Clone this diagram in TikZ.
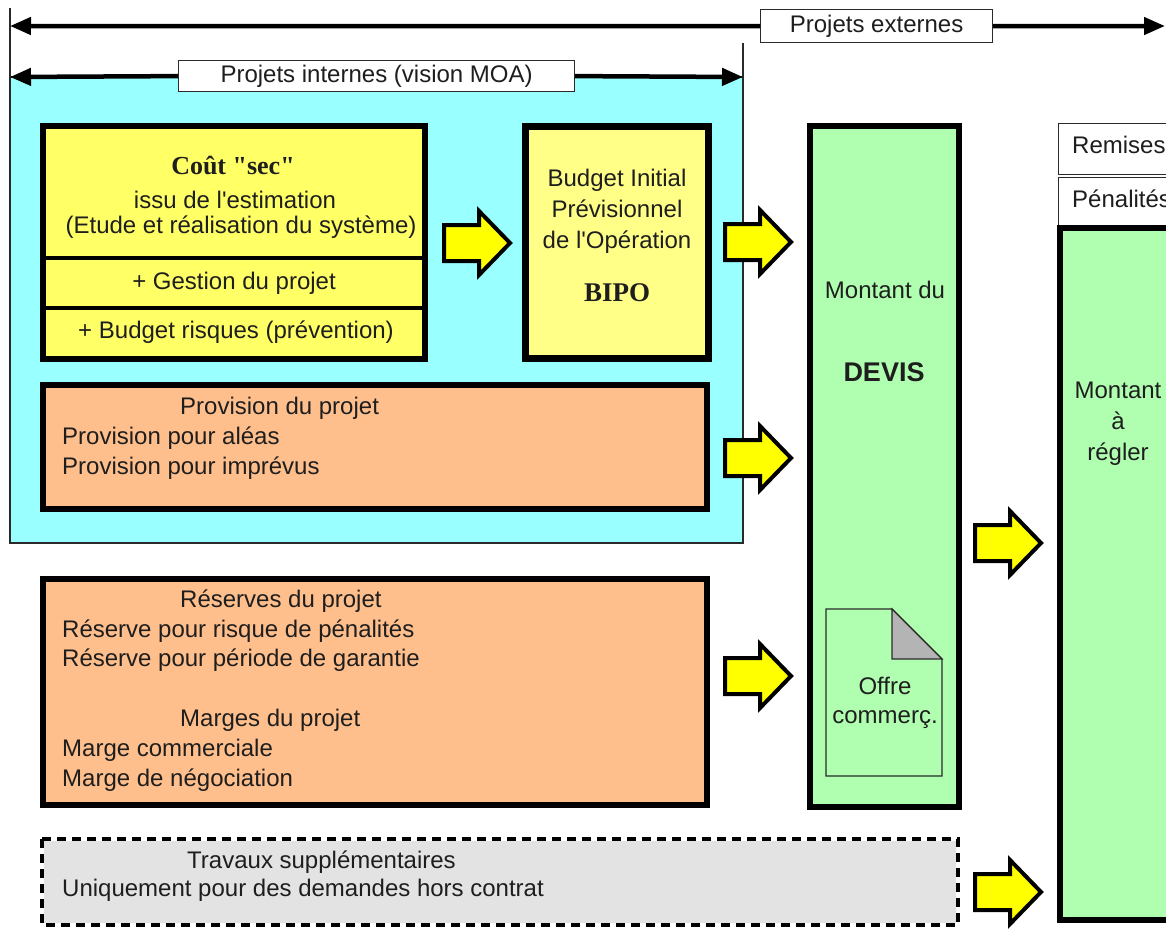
\documentclass[tikz,border=0pt]{standalone}
\usepackage{fontspec}
\newfontfamily\arialf{Liberation Sans}
\newfontfamily\timesf{Liberation Serif}
\usetikzlibrary{arrows.meta}

\definecolor{moacyan}{HTML}{99FFFF}
\definecolor{costyellow}{HTML}{FFFF66}
\definecolor{bipoyellow}{HTML}{FFFF88}
\definecolor{provorange}{HTML}{FFBF8C}
\definecolor{devisgreen}{HTML}{B0FFB0}
\definecolor{extragray}{HTML}{E3E3E3}
\definecolor{foldgray}{HTML}{B4B4B4}
\definecolor{arrowyellow}{HTML}{FFFF00}
\definecolor{ink}{HTML}{1E1E1E}
\definecolor{thinline}{HTML}{2A2A2A}

\tikzset{
  txt/.style={inner sep=0pt, text=ink, font=\arialf\fontsize{24}{30}\selectfont},
  serifbold/.style={inner sep=0pt, text=ink, font=\timesf\bfseries\fontsize{26}{30}\selectfont},
  panel/.style={draw=black, line width=6pt, inner sep=0pt, anchor=north west},
  tagbox/.style={draw=thinline, line width=1.2pt, fill=white, inner sep=0pt, anchor=north west},
  spanarrow/.style={line width=4.5pt, -{Triangle[length=21pt,width=17pt]}},
  pics/fatarrow/.style={code={
    \draw[line width=4pt, line join=miter, fill=arrowyellow]
      (0,-18) -- (35,-18) -- (35,-32) -- (66,0) -- (35,32) -- (35,18) -- (0,18) -- cycle;}}
}

\begin{document}
\begin{tikzpicture}[x=1pt,y=-1pt]
\useasboundingbox (0,0) rectangle (1166,929);
\clip (0,0) rectangle (1166,929);
\fill[white] (0,0) rectangle (1166,929);

% ---- internal projects zone (MOA view)
\node[draw=thinline, line width=1.2pt, fill=moacyan, inner sep=0pt, outer sep=0pt,
      anchor=north west, minimum width=733, minimum height=466] (moa) at (10,77) {};

% ---- extent markers
\coordinate (tickL) at (10,8);
\coordinate (tickR) at (743,43);
\coordinate (extL) at (10,26);
\coordinate (extR) at (1165,26);
\draw[thinline, line width=1.2pt] (tickL) -- (moa.north west);
\draw[thinline, line width=1.2pt] (tickR) -- (moa.north east);

\node[tagbox, txt, minimum width=232, minimum height=33] (ext) at (760,9) {Projets externes};
\draw[spanarrow] (ext.west) -- (extL);
\draw[spanarrow] (ext.east) -- (extR);

\node[tagbox, txt, minimum width=396, minimum height=31] (int) at (178,60) {Projets internes (vision MOA)};
\draw[spanarrow] (int.west) -- (moa.north west);
\draw[spanarrow] (int.east) -- (moa.north east);

% ---- dry cost block
\node[panel, fill=costyellow, minimum width=382, minimum height=233] (cost) at (40,123) {};
\coordinate (div1) at (0,258);
\coordinate (div2) at (0,308);
\draw[line width=4pt] (cost.west |- div1) -- (cost.east |- div1);
\draw[line width=4pt] (cost.west |- div2) -- (cost.east |- div2);
\node[serifbold] (coutsec) at (233,165) {Coût "sec"};
\node[txt] (issu) at (235,200) {issu de l'estimation};
\node[txt] (etude) at (241,227) {(Etude et réalisation du système)};
\node[txt] (gestion) at (234,283) {+ Gestion du projet};
\node[txt] (risques) at (236,332) {+ Budget risques (prévention)};

% ---- BIPO
\node[panel, line width=7pt, fill=bipoyellow, minimum width=183, minimum height=232] (bipo) at (522,123) {};
\node[txt, align=center, font=\arialf\fontsize{24}{31}\selectfont] (bipotxt) at (617,211)
  {Budget Initial\\Prévisionnel\\de l'Opération};
\node[inner sep=0pt, text=ink, font=\timesf\bfseries\fontsize{27}{30}\selectfont] (bipoabbr) at (617,293) {BIPO};

% ---- project provision
\node[panel, fill=provorange, minimum width=664, minimum height=124] (prov) at (40,382) {};
\node[txt, anchor=west] (provtitle) at (180,408) {Provision du projet};
\node[txt, anchor=west] (provalea) at (62,438) {Provision pour aléas};
\node[txt, anchor=west] (provimpr) at (62,468) {Provision pour imprévus};

% ---- reserves and margins
\node[panel, fill=provorange, minimum width=664, minimum height=226] (res) at (40,576) {};
\node[txt, anchor=west] (restitle) at (180,601) {Réserves du projet};
\node[txt, anchor=west] (respen) at (62,631) {Réserve pour risque de pénalités};
\node[txt, anchor=west] (resgar) at (62,660) {Réserve pour période de garantie};
\node[txt, anchor=west] (margtitle) at (180,720) {Marges du projet};
\node[txt, anchor=west] (margcom) at (62,750) {Marge commerciale};
\node[txt, anchor=west] (margneg) at (62,780) {Marge de négociation};

% ---- extra work (dashed)
\node[draw=white, line width=4pt, fill=extragray, inner sep=0pt, outer sep=0pt,
      anchor=north west, minimum width=916, minimum height=86] (extra) at (42,839) {};
\draw[line width=4pt, dash pattern=on 9pt off 6pt] (extra.north west) rectangle (extra.south east);
\node[txt, anchor=west] (extratitle) at (187,862) {Travaux supplémentaires};
\node[txt, anchor=west] (extraonly) at (62,890) {Uniquement pour des demandes hors contrat};

% ---- quotation
\node[panel, fill=devisgreen, minimum width=149, minimum height=681] (devis) at (807,123) {};
\node[txt] (montdu) at (885,290) {Montant du};
\node[inner sep=0pt, text=ink, font=\arialf\bfseries\fontsize{27}{30}\selectfont] (devisword) at (884,372) {DEVIS};

% commercial offer document
\node[inner sep=0pt, outer sep=0pt, anchor=north west, minimum width=116, minimum height=167] (offre) at (826,609) {};
\draw[thinline, line width=1.2pt, fill=devisgreen]
  (offre.north west) -- ([xshift=-50pt]offre.north east) -- ([yshift=-50pt]offre.north east)
  -- (offre.south east) -- (offre.south west) -- cycle;
\draw[thinline, line width=1.2pt, fill=foldgray]
  ([xshift=-50pt]offre.north east) -- ([xshift=-50pt,yshift=-50pt]offre.north east)
  -- ([yshift=-50pt]offre.north east) -- cycle;
\node[txt, align=center, font=\arialf\fontsize{24}{29}\selectfont] (offretxt) at (885,703) {Offre\\commerç.};

% ---- amount to pay, with discounts and penalties
\node[tagbox, minimum width=150, minimum height=51] (remises) at (1058,123) {};
\node[txt, anchor=west] (remisestxt) at (1072,145) {Remises};
\node[tagbox, minimum width=150, minimum height=48] (penal) at (1058,177) {};
\node[txt, anchor=west] (penaltxt) at (1072,199) {Pénalités};
\node[panel, fill=devisgreen, minimum width=137, minimum height=692] (regler) at (1057,225) {};
\node[txt, align=center, font=\arialf\fontsize{24}{31}\selectfont] (reglertxt) at (1118,424) {Montant\\à\\régler};

% ---- flow arrows
\pic at (444,243) {fatarrow};
\pic at (725,242) {fatarrow};
\pic at (725,458) {fatarrow};
\pic at (725,676) {fatarrow};
\pic at (975,543) {fatarrow};
\pic at (975,892) {fatarrow};
\end{tikzpicture}
\end{document}
